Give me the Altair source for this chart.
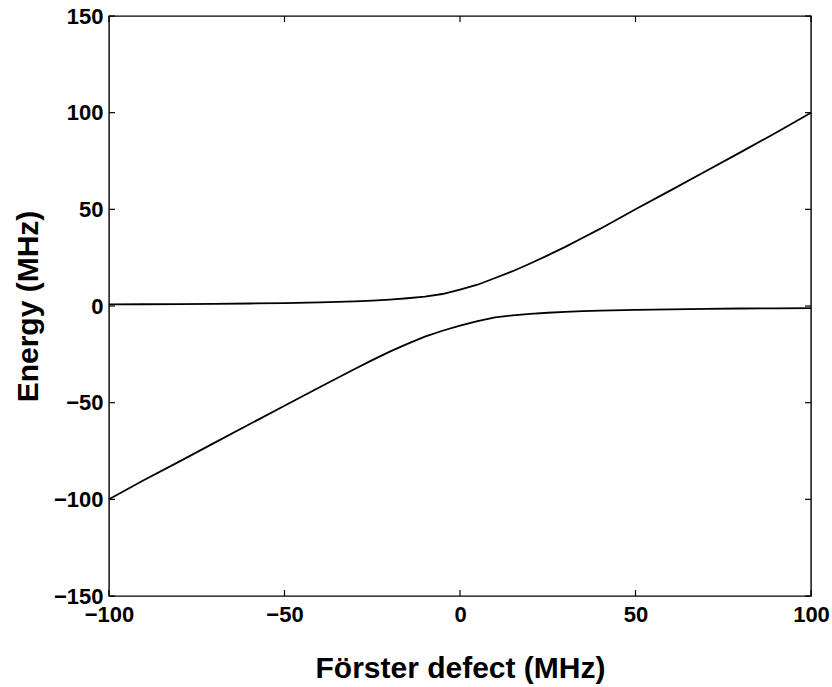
import altair as alt
import pandas as pd

# Data
detuning = [-100, -90, -80, -70, -60, -50, -40, -30, -25, -20, -15, -10, -5, 0, 5, 10, 15, 20, 25, 30, 35, 40, 50, 60, 70, 80, 90, 100]
upper = [0.8, 0.9, 1.0, 1.1, 1.3, 1.5, 1.9, 2.4, 2.8, 3.3, 4.0, 4.9, 6.2, 8.5, 11.0, 14.5, 18.0, 22.0, 26.2, 30.6, 35.3, 40.0, 50.0, 59.8, 69.7, 79.6, 89.6, 100.0]
lower = [-100.0, -90.0, -80.5, -70.8, -61.2, -51.6, -42.0, -32.6, -28.0, -23.6, -19.6, -15.8, -12.8, -10.2, -7.8, -5.9, -4.8, -4.1, -3.5, -3.0, -2.7, -2.4, -2.0, -1.7, -1.5, -1.3, -1.2, -1.1]
x_ticks = [-100, -50, 0, 50, 100]
y_ticks = [-150, -100, -50, 0, 50, 100, 150]

W, H = 702, 580
TL = 6
FONT = "Liberation Sans"

df = pd.DataFrame({
    "x": detuning * 2,
    "y": upper + lower,
    "branch": ["upper"] * len(detuning) + ["lower"] * len(detuning),
})
dfx = pd.DataFrame({"t": x_ticks})
dfy = pd.DataFrame({"t": y_ticks})

xscale = alt.Scale(domain=[-100, 100], nice=False, zero=False)
yscale = alt.Scale(domain=[-150, 150], nice=False, zero=False)

lines = alt.Chart(df).mark_line(color="black", strokeWidth=1.8).encode(
    x=alt.X("x:Q", scale=xscale, title="Förster defect (MHz)",
            axis=alt.Axis(values=x_ticks, ticks=False, domain=False, grid=False,
                          labelFont=FONT, labelFontSize=22, labelFontWeight="bold",
                          labelColor="black",
                          labelPadding=8, labelFlush=False, labelOverlap=False,
                          titleFont=FONT, titleFontSize=30, titleFontWeight="bold",
                          titleColor="black", titlePadding=28)),
    y=alt.Y("y:Q", scale=yscale, title="Energy (MHz)",
            axis=alt.Axis(values=y_ticks, ticks=False, domain=False, grid=False,
                          labelFont=FONT, labelFontSize=22, labelFontWeight="bold",
                          labelColor="black",
                          labelPadding=6, labelFlush=False, labelOverlap=False,
                          titleFont=FONT, titleFontSize=30, titleFontWeight="bold",
                          titleColor="black", titlePadding=10)),
    detail="branch:N",
)

bt = alt.Chart(dfx).mark_rule(color="black", strokeWidth=1.2).encode(
    x=alt.X("t:Q", scale=xscale), y=alt.value(H), y2=alt.value(H - TL))
tt = alt.Chart(dfx).mark_rule(color="black", strokeWidth=1.2).encode(
    x=alt.X("t:Q", scale=xscale), y=alt.value(0), y2=alt.value(TL))
lt = alt.Chart(dfy).mark_rule(color="black", strokeWidth=1.2).encode(
    y=alt.Y("t:Q", scale=yscale), x=alt.value(0), x2=alt.value(TL))
rt = alt.Chart(dfy).mark_rule(color="black", strokeWidth=1.2).encode(
    y=alt.Y("t:Q", scale=yscale), x=alt.value(W), x2=alt.value(W - TL))

chart = alt.layer(lines, bt, tt, lt, rt).properties(
    width=W, height=H,
    autosize=alt.AutoSizeParams(type="none"),
    padding={"left": 109, "top": 16, "right": 21, "bottom": 91},
    background="white",
).configure_view(stroke="black", strokeWidth=1.4)

chart.save("out.html", embed_options={"renderer": "svg", "actions": False})
